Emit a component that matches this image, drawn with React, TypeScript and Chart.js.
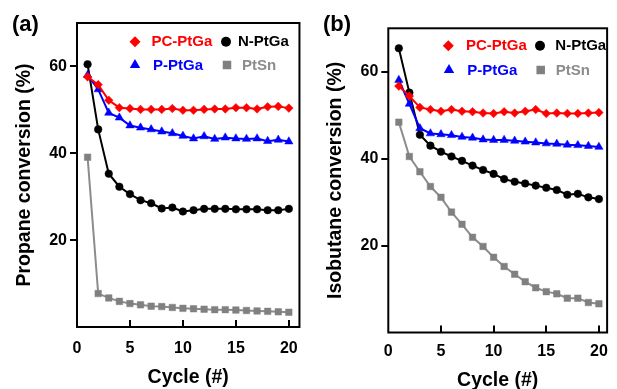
import React, { useEffect, useRef } from 'react';
import { Chart, registerables } from 'chart.js';

Chart.register(...registerables);

const FONT = '"Liberation Sans", Arial, sans-serif';

const cycles = [1, 2, 3, 4, 5, 6, 7, 8, 9, 10, 11, 12, 13, 14, 15, 16, 17, 18, 19, 20];
const xTickValues = [0, 5, 10, 15, 20];
const yTickValues = [20, 40, 60];

// Panel (a): propane conversion (%)
const propanePCPtGa = [57.6, 55.8, 52.2, 50.5, 50.3, 50.1, 50.1, 50.1, 50.3, 49.9, 49.9, 50.1, 50.2, 50.2, 50.5, 50.5, 50.2, 50.7, 50.8, 50.4];
const propanePPtGa = [58.0, 54.7, 49.3, 48.2, 46.4, 45.9, 45.5, 45.0, 44.6, 44.0, 43.4, 43.9, 43.3, 43.6, 43.4, 43.3, 43.4, 42.8, 43.1, 42.7];
const propaneNPtGa = [60.5, 45.5, 35.3, 32.3, 30.6, 29.2, 28.5, 27.3, 27.5, 26.6, 26.9, 27.2, 27.2, 27.2, 27.1, 27.1, 27.1, 26.9, 26.9, 27.2];
const propanePtSn = [39.1, 7.7, 6.7, 5.9, 5.4, 5.1, 4.8, 4.7, 4.5, 4.3, 4.2, 4.1, 4.0, 4.0, 3.9, 3.8, 3.7, 3.6, 3.5, 3.4];

// Panel (b): isobutane conversion (%)
const isobutanePCPtGa = [56.7, 54.4, 51.8, 51.3, 50.9, 51.3, 50.9, 50.8, 50.5, 50.4, 50.8, 50.5, 50.9, 51.3, 50.4, 50.5, 50.4, 50.4, 50.5, 50.6];
const isobutanePPtGa = [58.1, 52.6, 47.0, 45.8, 45.6, 45.4, 45.0, 44.8, 44.4, 44.3, 44.3, 44.1, 43.9, 43.7, 43.5, 43.4, 43.2, 43.1, 42.9, 42.7];
const isobutaneNPtGa = [65.4, 55.2, 45.5, 43.0, 41.6, 40.5, 39.5, 38.4, 37.4, 36.5, 35.3, 34.7, 34.3, 33.8, 33.3, 32.8, 31.7, 31.9, 31.1, 30.7];
const isobutanePtSn = [48.4, 40.5, 37.0, 33.6, 31.1, 27.7, 24.9, 21.9, 19.8, 17.3, 15.2, 13.4, 11.7, 10.3, 9.4, 8.9, 7.9, 7.9, 6.9, 6.6];

const seriesNames = ['PC-PtGa', 'P-PtGa', 'N-PtGa', 'PtSn'];
const seriesColors = ['#ff0000', '#0000ff', '#000000', '#808080'];
const seriesLineColors = ['#ff0000', '#0000ff', '#000000', '#8c8c8c'];
const seriesTextColors = ['#ff0000', '#0000ff', '#000000', '#8c8c8c'];
const seriesPointStyles = ['rectRot', 'triangle', 'circle', 'rect'];
const seriesPointRadius = [4.3, 4.8, 3.8, 4.6];

function drawMarker(ctx: CanvasRenderingContext2D, style: string, x: number, y: number, color: string) {
  ctx.fillStyle = color;
  ctx.beginPath();
  if (style === 'rectRot') {
    const r = 5.5;
    ctx.moveTo(x, y - r);
    ctx.lineTo(x + r, y);
    ctx.lineTo(x, y + r);
    ctx.lineTo(x - r, y);
    ctx.closePath();
  } else if (style === 'circle') {
    ctx.arc(x, y, 5, 0, Math.PI * 2);
  } else if (style === 'triangle') {
    const r = 6;
    ctx.moveTo(x, y - r);
    ctx.lineTo(x + r * 0.866, y + r * 0.5);
    ctx.lineTo(x - r * 0.866, y + r * 0.5);
    ctx.closePath();
  } else {
    const s = 8.5;
    ctx.rect(x - s / 2, y - s / 2, s, s);
  }
  ctx.fill();
}

const framePlugin = {
  id: 'frameAndLegend',
  afterDatasetsDraw(chart: any, _args: any, opts: any) {
    const { ctx, chartArea } = chart;
    const { left, top, right, bottom } = chartArea;
    const xs = chart.scales.x;
    const ys = chart.scales.y;
    ctx.save();
    ctx.strokeStyle = '#000';
    ctx.lineWidth = 2;
    ctx.strokeRect(left, top, right - left, bottom - top);
    ctx.beginPath();
    for (const v of yTickValues) {
      const py = Math.round(ys.getPixelForValue(v));
      ctx.moveTo(left - 7, py);
      ctx.lineTo(left, py);
    }
    for (const v of xTickValues) {
      if (v === 0) continue;
      const px = Math.round(xs.getPixelForValue(v));
      ctx.moveTo(px, bottom);
      ctx.lineTo(px, bottom - 7);
    }
    ctx.stroke();

    // legend
    ctx.font = `bold 15px ${FONT}`;
    ctx.textBaseline = 'middle';
    ctx.textAlign = 'left';
    for (const item of opts.items) {
      const i = seriesNames.indexOf(item.name);
      const my = top + item.dy;
      drawMarker(ctx, seriesPointStyles[i], left + item.mx, my, seriesColors[i]);
      ctx.fillStyle = seriesTextColors[i];
      ctx.fillText(item.name, left + item.tx, my + 0.5);
    }

    // panel label
    ctx.font = `bold 22px ${FONT}`;
    ctx.textBaseline = 'alphabetic';
    ctx.fillStyle = '#000';
    ctx.fillText(opts.panel.text, opts.panel.x, opts.panel.y);
    ctx.restore();
  },
};

type PanelProps = {
  width: number;
  values: number[][];
  yTitle: string;
  xMax: number;
  padTop: number;
  padRight: number;
  yWidth: number;
  xHeight: number;
  xTickPad: number;
  xTitlePad: number;
  yTitlePad: number;
  legendItems: any[];
  panel: any;
};

function Panel(p: PanelProps) {
  const ref = useRef<HTMLCanvasElement | null>(null);
  useEffect(() => {
    if (!ref.current) return;
    const datasets = seriesNames.map((name, i) => ({
      label: name,
      data: cycles.map((c, k) => ({ x: c, y: p.values[i][k] })),
      borderColor: seriesLineColors[i],
      backgroundColor: seriesColors[i],
      pointBackgroundColor: seriesColors[i],
      pointBorderColor: seriesColors[i],
      pointBorderWidth: 0.5,
      pointStyle: seriesPointStyles[i] as any,
      pointRadius: seriesPointRadius[i],
      borderWidth: 2,
      tension: 0,
    }));
    const chart = new Chart(ref.current, {
      type: 'line',
      data: { datasets },
      plugins: [framePlugin as any],
      options: {
        animation: false,
        responsive: false,
        layout: { padding: { top: p.padTop, right: p.padRight, left: 0, bottom: 0 } },
        plugins: {
          legend: { display: false },
          tooltip: { enabled: false },
          frameAndLegend: { items: p.legendItems, panel: p.panel },
        } as any,
        scales: {
          x: {
            type: 'linear',
            min: 0,
            max: p.xMax,
            afterBuildTicks: (s: any) => {
              s.ticks = xTickValues.map((v) => ({ value: v }));
            },
            afterFit: (s: any) => {
              s.height = p.xHeight;
            },
            grid: { display: false, drawTicks: false },
            border: { display: false },
            ticks: {
              padding: p.xTickPad,
              color: '#000',
              font: { family: FONT, size: 16, weight: 'bold' },
              maxRotation: 0,
            },
            title: {
              display: true,
              text: 'Cycle (#)',
              color: '#000',
              font: { family: FONT, size: 19.5, weight: 'bold', lineHeight: 1 },
              padding: { top: 0, bottom: p.xTitlePad },
            },
          },
          y: {
            type: 'linear',
            min: 0,
            max: 70,
            afterBuildTicks: (s: any) => {
              s.ticks = yTickValues.map((v) => ({ value: v }));
            },
            afterFit: (s: any) => {
              s.width = p.yWidth;
            },
            grid: { display: false, drawTicks: false },
            border: { display: false },
            ticks: {
              padding: 10,
              color: '#000',
              font: { family: FONT, size: 16, weight: 'bold' },
            },
            title: {
              display: true,
              text: p.yTitle,
              color: '#000',
              font: { family: FONT, size: 19.5, weight: 'bold', lineHeight: 1 },
              padding: { top: p.yTitlePad, bottom: 0 },
            },
          },
        },
      } as any,
    });
    return () => chart.destroy();
  }, []);
  return <canvas ref={ref} width={p.width} height={389} style={{ display: 'block' }} />;
}

export default function App() {
  return (
    <div style={{ position: 'absolute', left: 0, top: 0, width: 617, height: 389, overflow: 'hidden', background: '#fff' }}>
      <div style={{ position: 'absolute', left: 0, top: 0 }}>
        <Panel
          width={310}
          values={[propanePCPtGa, propanePPtGa, propaneNPtGa, propanePtSn]}
          yTitle="Propane conversion (%)"
          xMax={21}
          padTop={23}
          padRight={3}
          yWidth={77}
          xHeight={62}
          xTickPad={12}
          xTitlePad={2}
          yTitlePad={14.5}
          legendItems={[
            { name: 'PC-PtGa', mx: 58, tx: 74.5, dy: 18.7 },
            { name: 'N-PtGa', mx: 149, tx: 161, dy: 18.7 },
            { name: 'P-PtGa', mx: 58, tx: 76, dy: 42 },
            { name: 'PtSn', mx: 150, tx: 165, dy: 42 },
          ]}
          panel={{ text: '(a)', x: 12, y: 30.5 }}
        />
      </div>
      <div style={{ position: 'absolute', left: 310, top: 0 }}>
        <Panel
          width={307}
          values={[isobutanePCPtGa, isobutanePPtGa, isobutaneNPtGa, isobutanePtSn]}
          yTitle="Isobutane conversion (%)"
          xMax={20.78}
          padTop={28.3}
          padRight={2.5}
          yWidth={78.3}
          xHeight={56.5}
          xTickPad={9}
          xTitlePad={-1}
          yTitlePad={15.7}
          legendItems={[
            { name: 'PC-PtGa', mx: 60, tx: 77.7, dy: 17.4 },
            { name: 'N-PtGa', mx: 151.7, tx: 167, dy: 17.4 },
            { name: 'P-PtGa', mx: 60.7, tx: 79, dy: 41.7 },
            { name: 'PtSn', mx: 152.4, tx: 167.4, dy: 41.7 },
          ]}
          panel={{ text: '(b)', x: 13, y: 31 }}
        />
      </div>
    </div>
  );
}
